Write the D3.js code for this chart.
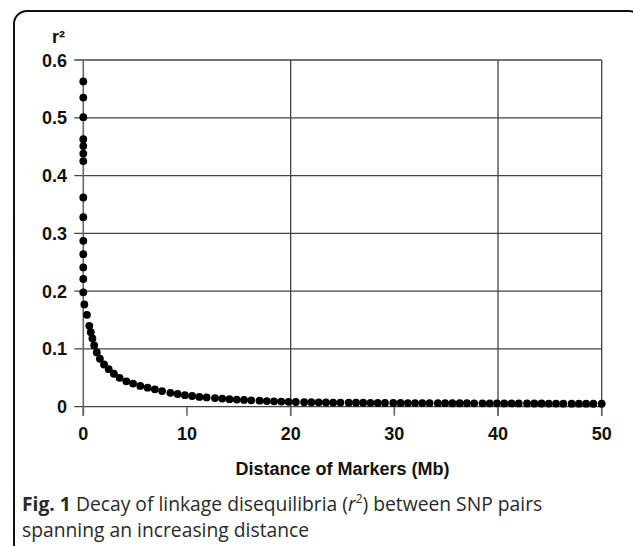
<!DOCTYPE html>
<head>
  <meta charset="utf-8">
  <script src="https://d3js.org/d3.v7.min.js"></script>
  <style>
    body { margin: 0; background: #fff; }
    .tick-lab { font: bold 18px "Liberation Sans", Arial, sans-serif; fill: #111; }
    .cap { font-family: "Open Sans", sans-serif; font-size: 19.3px; fill: #2a2a2a; }
  </style>
</head>
<body>
<script>
  // distance (Mb) and r2
  var distance = [0, 0, 0, 0, 0, 0, 0, 0, 0, 0, 0, 0, 0, 0,
    0.1, 0.35, 0.58, 0.72, 0.88, 1.05, 1.3, 1.6, 2.0, 2.45, 2.95, 3.5, 4.15, 4.8, 5.5, 6.2, 6.9, 7.6, 8.4, 9.1, 9.8,
    10.5, 11.2, 11.9, 12.7, 13.4, 14.1, 14.8, 15.5, 16.2, 17.0, 17.7, 18.4, 19.1, 19.8,
    20.5, 21.3, 22.0, 22.7, 23.4, 24.1, 24.8, 25.6, 26.3, 27.0, 27.7, 28.4, 29.1, 29.9,
    30.6, 31.3, 32.0, 32.7, 33.4, 34.2, 34.9, 35.6, 36.3, 37.0, 37.7, 38.5, 39.2, 39.9,
    40.6, 41.3, 42.0, 42.8, 43.5, 44.2, 44.9, 45.6, 46.3, 47.1, 47.8, 48.5, 49.2, 50.0];
  var r2 = [0.563, 0.535, 0.501, 0.463, 0.451, 0.438, 0.425, 0.362, 0.328, 0.287, 0.264, 0.241, 0.221, 0.198,
    0.177, 0.159, 0.140, 0.129, 0.118, 0.106, 0.094, 0.083, 0.073, 0.065, 0.057, 0.050, 0.044, 0.040, 0.036, 0.033, 0.030, 0.027, 0.024, 0.022, 0.020,
    0.0185, 0.017, 0.016, 0.015, 0.014, 0.013, 0.0123, 0.0117, 0.011, 0.0104, 0.0098, 0.0093, 0.0088, 0.0084,
    0.0081, 0.0079, 0.0077, 0.0075, 0.0073, 0.0072, 0.0071, 0.0070, 0.0069, 0.0068, 0.0067, 0.0066, 0.0065, 0.0064,
    0.0064, 0.0063, 0.0063, 0.0062, 0.0062, 0.0061, 0.0061, 0.0060, 0.0060, 0.0060, 0.0059, 0.0059, 0.0058, 0.0058,
    0.0057, 0.0057, 0.0056, 0.0056, 0.0055, 0.0055, 0.0054, 0.0054, 0.0053, 0.0053, 0.0052, 0.0052, 0.0051, 0.0051];
  var xTicks = [0, 10, 20, 30, 40, 50];
  var xGrid = [20, 40, 50];
  var yTicks = [0, 0.1, 0.2, 0.3, 0.4, 0.5, 0.6];

  var w = 633, h = 546;
  var svg = d3.select("body").append("svg").attr("width", w).attr("height", h);

  // frame around figure + caption
  svg.append("rect")
    .attr("x", 14).attr("y", 11).attr("width", 628).attr("height", 560)
    .attr("rx", 13).attr("fill", "none").attr("stroke", "#111").attr("stroke-width", 2);

  var x = d3.scaleLinear().domain([0, 50]).range([83.3, 601.7]);
  var y = d3.scaleLinear().domain([0, 0.6]).range([406.7, 60]);

  // horizontal grid lines with left ticks
  svg.selectAll("line.hg").data(yTicks).enter().append("line")
    .attr("x1", x(0) - 9).attr("x2", x(50))
    .attr("y1", d => y(d)).attr("y2", d => y(d))
    .attr("stroke", "#444").attr("stroke-width", 1.3);

  // vertical grid lines
  svg.selectAll("line.vg").data(xGrid).enter().append("line")
    .attr("x1", d => x(d)).attr("x2", d => x(d))
    .attr("y1", y(0.6)).attr("y2", y(0) + 9)
    .attr("stroke", "#444").attr("stroke-width", 1.3);

  // y axis line
  svg.append("line")
    .attr("x1", x(0)).attr("x2", x(0)).attr("y1", y(0.6)).attr("y2", y(0) + 9)
    .attr("stroke", "#666").attr("stroke-width", 1.6);

  // x ticks below axis
  svg.selectAll("line.xt").data(xTicks).enter().append("line")
    .attr("x1", d => x(d)).attr("x2", d => x(d))
    .attr("y1", y(0)).attr("y2", y(0) + 9)
    .attr("stroke", "#666").attr("stroke-width", 1.6);

  svg.selectAll("text.yl").data(yTicks).enter().append("text")
    .attr("class", "tick-lab")
    .attr("x", 67).attr("y", d => y(d) + 6.5)
    .attr("text-anchor", "end")
    .text(d => d === 0 ? "0" : d.toFixed(1));

  svg.selectAll("text.xl").data(xTicks).enter().append("text")
    .attr("class", "tick-lab")
    .attr("x", d => x(d)).attr("y", 440)
    .attr("text-anchor", "middle")
    .text(d => d);

  svg.append("text").attr("class", "tick-lab")
    .attr("x", 52).attr("y", 43).style("font-size", "18px")
    .text("r²");

  svg.append("text").attr("class", "tick-lab")
    .attr("x", x(25)).attr("y", 475).attr("text-anchor", "middle")
    .text("Distance of Markers (Mb)");

  // points
  svg.selectAll("circle").data(distance).enter().append("circle")
    .attr("cx", (d, i) => x(d)).attr("cy", (d, i) => y(r2[i]))
    .attr("r", 3.9).attr("fill", "#000");

  // caption
  var c1 = svg.append("text").attr("class", "cap").attr("x", 22).attr("y", 511);
  c1.append("tspan").style("font-weight", "bold").text("Fig. 1");
  c1.append("tspan").text(" Decay of linkage disequilibria (");
  c1.append("tspan").style("font-style", "italic").text("r");
  c1.append("tspan").attr("dy", -8).style("font-size", "12px").text("2");
  c1.append("tspan").attr("dy", 8).text(") between SNP pairs");
  svg.append("text").attr("class", "cap").attr("x", 22).attr("y", 537)
    .text("spanning an increasing distance");
</script>
</body>
